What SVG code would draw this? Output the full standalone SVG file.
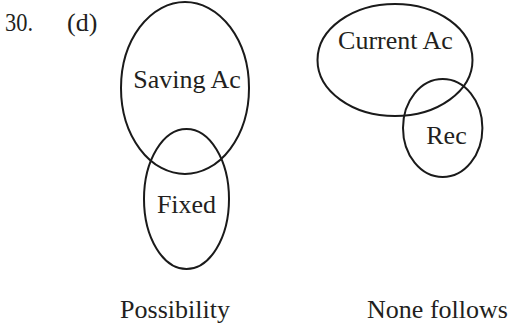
<svg xmlns="http://www.w3.org/2000/svg" width="512" height="329" viewBox="0 0 512 329">
<style>
.e{fill:none;stroke:#1a1a1a;stroke-width:2}
text{font-family:"Liberation Serif","Times New Roman",serif;font-size:26px;fill:#231f20}
</style>
<rect width="512" height="329" fill="#fff"/>
<g id="label-q"><text x="5" y="31" textLength="28" lengthAdjust="spacingAndGlyphs">30.</text><text x="67" y="31">(d)</text></g>
<g id="saving"><ellipse class="e" cx="185" cy="88" rx="64" ry="86"/><text x="187" y="88" text-anchor="middle">Saving Ac</text></g>
<g id="fixed"><ellipse class="e" cx="186.5" cy="199" rx="42.5" ry="70"/><text x="186.5" y="213" text-anchor="middle">Fixed</text></g>
<g id="current"><ellipse class="e" cx="395" cy="60" rx="77.5" ry="56"/><text x="395.5" y="49" text-anchor="middle">Current Ac</text></g>
<g id="rec"><ellipse class="e" cx="442.7" cy="128" rx="39.7" ry="49"/><text x="446.5" y="144" text-anchor="middle">Rec</text></g>
<g id="captions"><text x="175" y="318" text-anchor="middle">Possibility</text><text x="437.5" y="318" text-anchor="middle">None follows</text></g>
<g id="connectors"/>
</svg>
